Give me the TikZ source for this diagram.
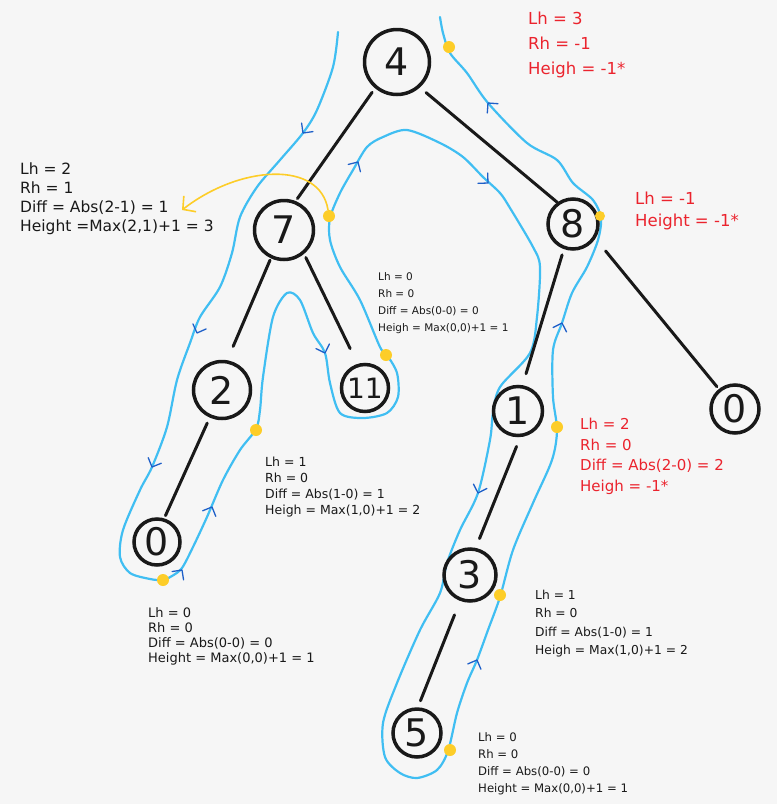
\documentclass[tikz,border=0pt]{standalone}
\usepackage{fontspec}
\setmainfont{DejaVu Sans}
\usetikzlibrary{arrows.meta}
\definecolor{paper}{RGB}{246,246,246}
\definecolor{trailblue}{RGB}{64,190,242}
\definecolor{tipblue}{RGB}{30,95,200}
\definecolor{dotyellow}{RGB}{253,205,40}
\definecolor{note}{RGB}{235,35,45}
\definecolor{ink}{RGB}{25,25,25}
\tikzset{
  vertex/.style={circle, draw=ink, line width=3.5pt, inner sep=0pt, minimum size=#1, text=ink, font=\fontsize{38}{40}\selectfont},
  edge/.style={draw=ink, line width=3pt, line cap=round},
  walk/.style={draw=trailblue, line width=2.2pt, line join=round, line cap=round},
  chev/.style={draw=tipblue, line width=1.3pt, line cap=round, line join=round},
  dot/.style={circle, fill=dotyellow, inner sep=0pt, minimum size=12pt},
  ylink/.style={draw=dotyellow, line width=1.6pt, -{Straight Barb[length=9pt,width=20pt]}},
  info/.style 2 args={anchor=north west, inner sep=0pt, align=left, text=ink, font=\fontsize{#1}{#2}\selectfont}
}
\begin{document}
\begin{tikzpicture}[x=1pt, y=-1pt]
\useasboundingbox (0,0) rectangle (777,804);
\fill[paper] (0,0) rectangle (777,804);
% traversal
\draw[walk] plot[smooth, tension=0.5] coordinates {
 (338,32) (333,67) (317,110) (303,133) (280,160) (257,187) (240,217) (232,253) (220,287) (200,317) (190,343) (177,380) (167,427) (152,467) (140,490) (123,530) (120,557) (130,573) (150,579) (163,580) (172,576) (182,568) (193,547) (207,517) (223,480) (240,450) (256,429) (260,410) (263,377) (273,317) (287,293) (300,300) (313,333) (325,353) (330,383) (340,413) (363,418) (387,413) (398,397) (397,373) (387,355) (380,347) (360,300) (340,267) (330,240) (330,218) (340,193) (353,170) (367,147) (383,137) (407,130) (440,143) (463,157) (483,177) (500,193) (510,208) (533,247) (540,267) (537,317) (530,353) (500,387) (493,413) (490,440) (478,493) (460,530) (447,563) (440,593) (420,630) (397,683) (383,723) (385,757) (400,773) (417,778) (437,770) (448,751) (457,713) (467,683) (477,660) (488,630) (500,597) (513,550) (533,503) (552,460) (557,430) (553,397) (553,350) (562,323) (572,293) (587,267) (598,240) (601,218) (593,200) (573,183) (557,160) (527,143) (488,103) (467,73) (450,53) (443,33) (440,17)};
% tree
\node[vertex=65pt] (N4) at (397,62) {4};
\node[vertex=59pt] (N7) at (284,230) {7};
\node[vertex=50pt] (N8) at (573,224) {8};
\node[vertex=57pt] (N2) at (222,390) {2};
\node[vertex=47pt, font=\fontsize{28}{30}\selectfont] (N11) at (365,388) {11};
\node[vertex=49pt] (N1) at (518,411) {1};
\node[vertex=48pt] (N0r) at (735,409) {0};
\node[vertex=46pt] (N0l) at (157,542) {0};
\node[vertex=52pt] (N3) at (470,575) {3};
\node[vertex=48pt] (N5) at (417,733) {5};
\draw[edge, shorten <=5pt, shorten >=3pt] (N4.230) -- (N7.68);
\draw[edge, shorten <=8pt] (N4.312) -- (N8.126);
\draw[edge, shorten <=2pt, shorten >=15pt] (N7.245) -- (N2.80);
\draw[edge, shorten <=4pt, shorten >=17pt] (N7.310) -- (N11.107);
\draw[edge, shorten <=6pt, shorten >=12pt] (N8.250) -- (N1.80);
\draw[edge, shorten <=16pt, shorten >=3pt] (N8.327) -- (N0r.129);
\draw[edge, shorten <=6pt, shorten >=3pt] (N2.246) -- (N0l.73);
\draw[edge, shorten <=10pt, shorten >=10pt] (N1.275) -- (N3.78);
\draw[edge, shorten <=15pt, shorten >=7pt] (N3.249) -- (N5.88);
% direction marks
\foreach \x/\y/\a in {303/133/233, 197/333/249, 152/467/247, 182/570/54, 212/507/67, 325/353/289,
  358/162/59, 488/183/317, 478/493/252, 477/660/68, 562/323/72, 488/103/131}
  \draw[chev] (\x,\y) ++(\a+135:10pt) -- (\x,\y) -- ++(\a-135:10pt);
% return points
\node[dot] (Y4) at (449,47) {};
\node[dot] (Y7) at (329,216) {};
\node[dot, minimum size=10pt] (Y8) at (600,216) {};
\node[dot] (Y11) at (386,355) {};
\node[dot] (Y2) at (256,430) {};
\node[dot] (Y0l) at (163,580) {};
\node[dot] (Y1) at (557,427) {};
\node[dot] (Y3) at (500,595) {};
\node[dot] (Y5) at (450,750) {};
% notes
\node[info={15.5}{18.7}] (T7) at (20,163) {Lh = 2\\Rh = 1\\Diff = Abs(2-1) = 1\\Height =Max(2,1)+1 = 3};
\node[info={10.5}{17}] (T11) at (378,272) {Lh = 0\\Rh = 0\\Diff = Abs(0-0) = 0\\Heigh = Max(0,0)+1 = 1};
\node[info={16.5}{25}, text=note] (T4) at (528,12) {Lh = 3\\Rh = -1\\Heigh = -1*};
\node[info={16.5}{22}, text=note] (T8) at (635,192) {Lh = -1\\Height = -1*};
\node[info={15}{20.5}, text=note] (T1) at (580,418) {Lh = 2\\Rh = 0\\Diff = Abs(2-0) = 2\\Heigh = -1*};
\node[info={12.5}{16}] (T2) at (265,457) {Lh = 1\\Rh = 0\\Diff = Abs(1-0) = 1\\Heigh = Max(1,0)+1 = 2};
\node[info={13}{15.3}] (T0l) at (148,607) {Lh = 0\\Rh = 0\\Diff = Abs(0-0) = 0\\Height = Max(0,0)+1 = 1};
\node[info={12.3}{18.3}] (T3) at (535,590) {Lh = 1\\Rh = 0\\Diff = Abs(1-0) = 1\\Heigh = Max(1,0)+1 = 2};
\node[info={11.7}{17}] (T5) at (478,732) {Lh = 0\\Rh = 0\\Diff = Abs(0-0) = 0\\Height = Max(0,0)+1 = 1};
\coordinate (Yend) at (182,210);
\draw[ylink] (Y7) .. controls (320,160) and (240,165) .. (Yend);
\end{tikzpicture}
\end{document}
